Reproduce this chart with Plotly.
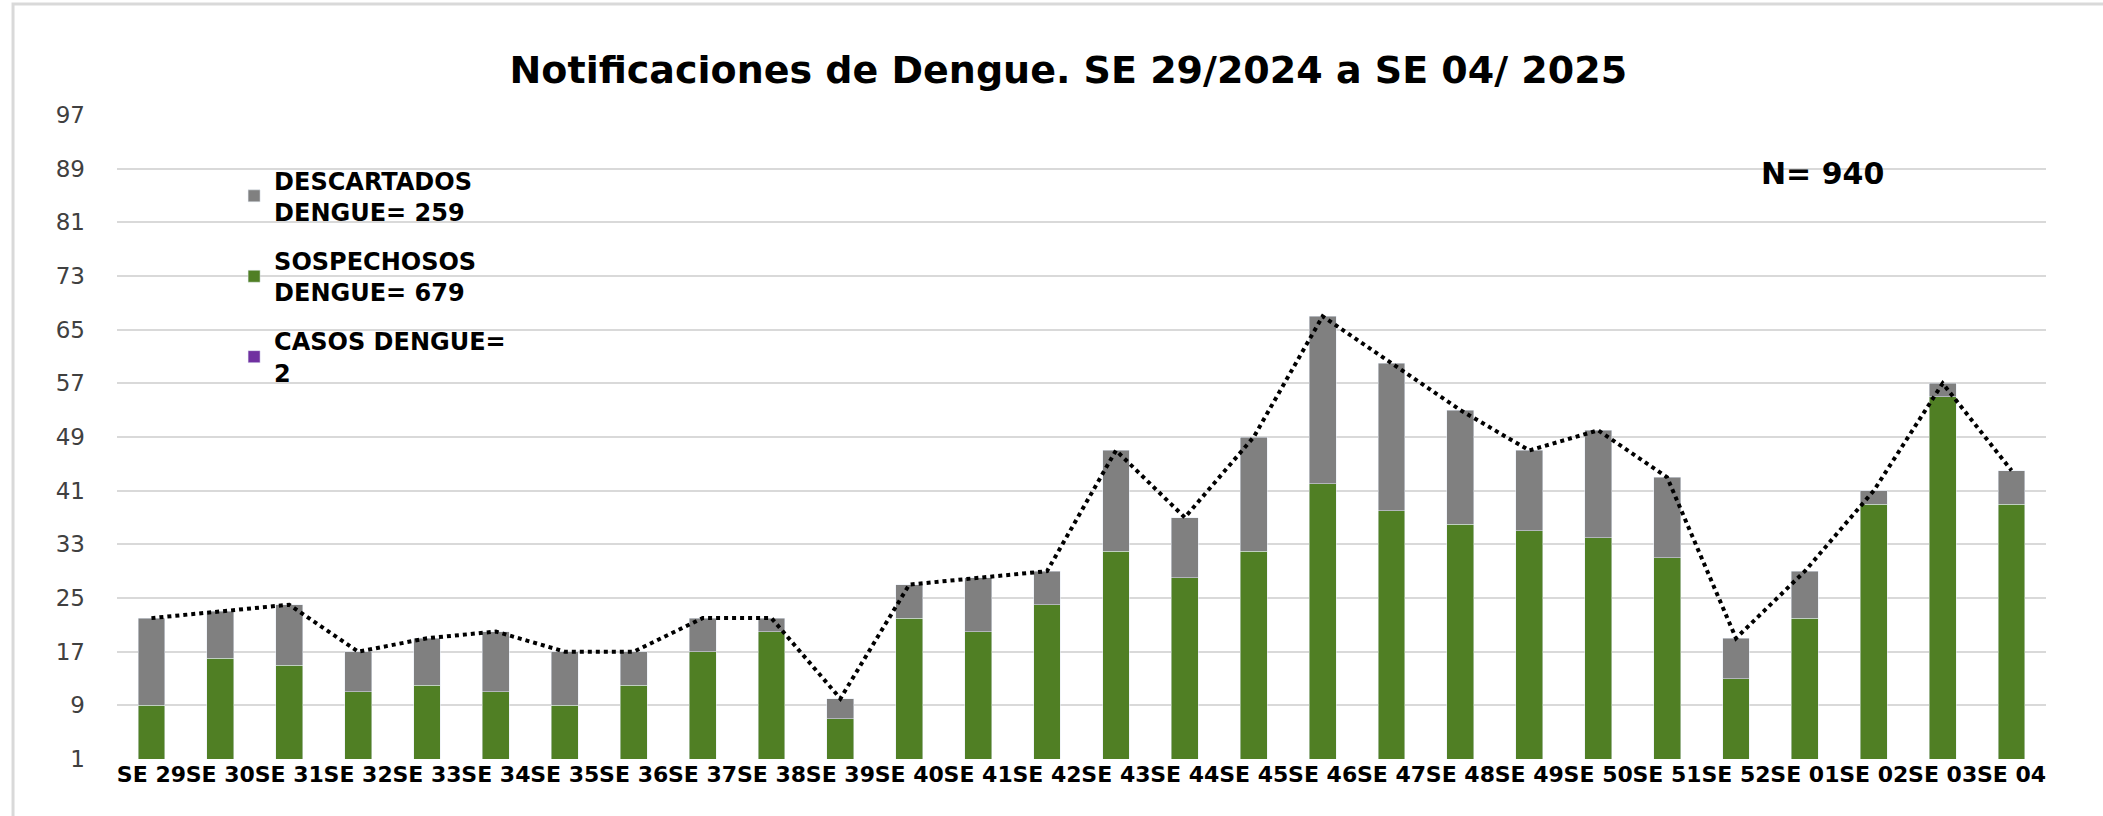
import plotly.graph_objects as go

semanas = ["SE 29", "SE 30", "SE 31", "SE 32", "SE 33", "SE 34", "SE 35", "SE 36", "SE 37", "SE 38",
           "SE 39", "SE 40", "SE 41", "SE 42", "SE 43", "SE 44", "SE 45", "SE 46", "SE 47", "SE 48",
           "SE 49", "SE 50", "SE 51", "SE 52", "SE 01", "SE 02", "SE 03", "SE 04"]
casos = [0, 0, 0, 0, 0, 0, 0, 0, 0, 0, 0, 0, 0, 0, 0, 0, 0, 1, 0, 0, 0, 0, 0, 0, 0, 0, 1, 0]
sospechosos = [9, 16, 15, 11, 12, 11, 9, 12, 17, 20, 7, 22, 20, 24, 32, 28, 32, 41, 38, 36,
               35, 34, 31, 13, 22, 39, 54, 39]
descartados = [13, 7, 9, 6, 7, 9, 8, 5, 5, 2, 3, 5, 8, 5, 15, 9, 17, 25, 22, 17,
               12, 16, 12, 6, 7, 2, 2, 5]
totales = [22, 23, 24, 17, 19, 20, 17, 17, 22, 22, 10, 27, 28, 29, 47, 37, 49, 67, 60, 53,
           47, 50, 43, 19, 29, 41, 57, 44]
y_ticks = [1, 9, 17, 25, 33, 41, 49, 57, 65, 73, 81, 89, 97]

FONT = "DejaVu Sans"

fig = go.Figure()
fig.add_trace(go.Bar(x=semanas, y=casos, name="CASOS DENGUE=<br>2", marker_color="#7030A0",
                     legendrank=3, legendgroup="c"))
fig.add_trace(go.Bar(x=semanas, y=sospechosos, name="SOSPECHOSOS<br>DENGUE= 679", marker_color="#507F24",
                     legendrank=2, legendgroup="b"))
fig.add_trace(go.Bar(x=semanas, y=descartados, name="DESCARTADOS<br>DENGUE= 259", marker_color="#808080",
                     legendrank=1, legendgroup="a"))
fig.add_trace(go.Scatter(x=semanas, y=totales, mode="lines", showlegend=False,
                         line=dict(color="black", width=4, dash="dot")))

fig.update_layout(
    width=2103, height=816,
    barmode="stack", bargap=0.61,
    plot_bgcolor="white", paper_bgcolor="white",
    margin=dict(l=117, r=57, t=115, b=57),
    title=dict(text="<b>Notificaciones de Dengue. SE 29/2024 a SE 04/ 2025</b>",
               x=0.508, xanchor="center", xref="container", y=0.914, yanchor="middle",
               font=dict(family=FONT, size=38, color="black")),
    font=dict(family=FONT),
    legend=dict(x=0.0607, y=0.933, xanchor="left", yanchor="top", bgcolor="rgba(0,0,0,0)",
                font=dict(family=FONT, size=24, color="black", weight="bold"),
                tracegroupgap=15, itemwidth=30),
    xaxis=dict(showgrid=False, showline=False, ticks="", tickangle=0,
               tickfont=dict(family=FONT, size=22, color="black", weight="bold")),
    yaxis=dict(range=[1, 97], tickvals=y_ticks, showgrid=True, gridcolor="#D9D9D9", gridwidth=2,
               zeroline=False, showline=False, ticks="", ticklabelstandoff=31,
               tickfont=dict(family=FONT, size=23, color="#404040")),
    shapes=[dict(type="rect", xref="paper", yref="paper", x0=-0.0539, x1=1.2, y0=-0.3, y1=1.1724,
                 line=dict(color="#D9D9D9", width=3), fillcolor="rgba(0,0,0,0)")],
    annotations=[dict(text="<b>N= 940</b>", xref="paper", yref="paper", x=0.884, y=0.9095,
                      xanchor="center", yanchor="middle", showarrow=False,
                      font=dict(family=FONT, size=30, color="black"))],
)

fig.write_html("out.html", config={"displayModeBar": False},
               post_script="document.body.style.margin='0';")
